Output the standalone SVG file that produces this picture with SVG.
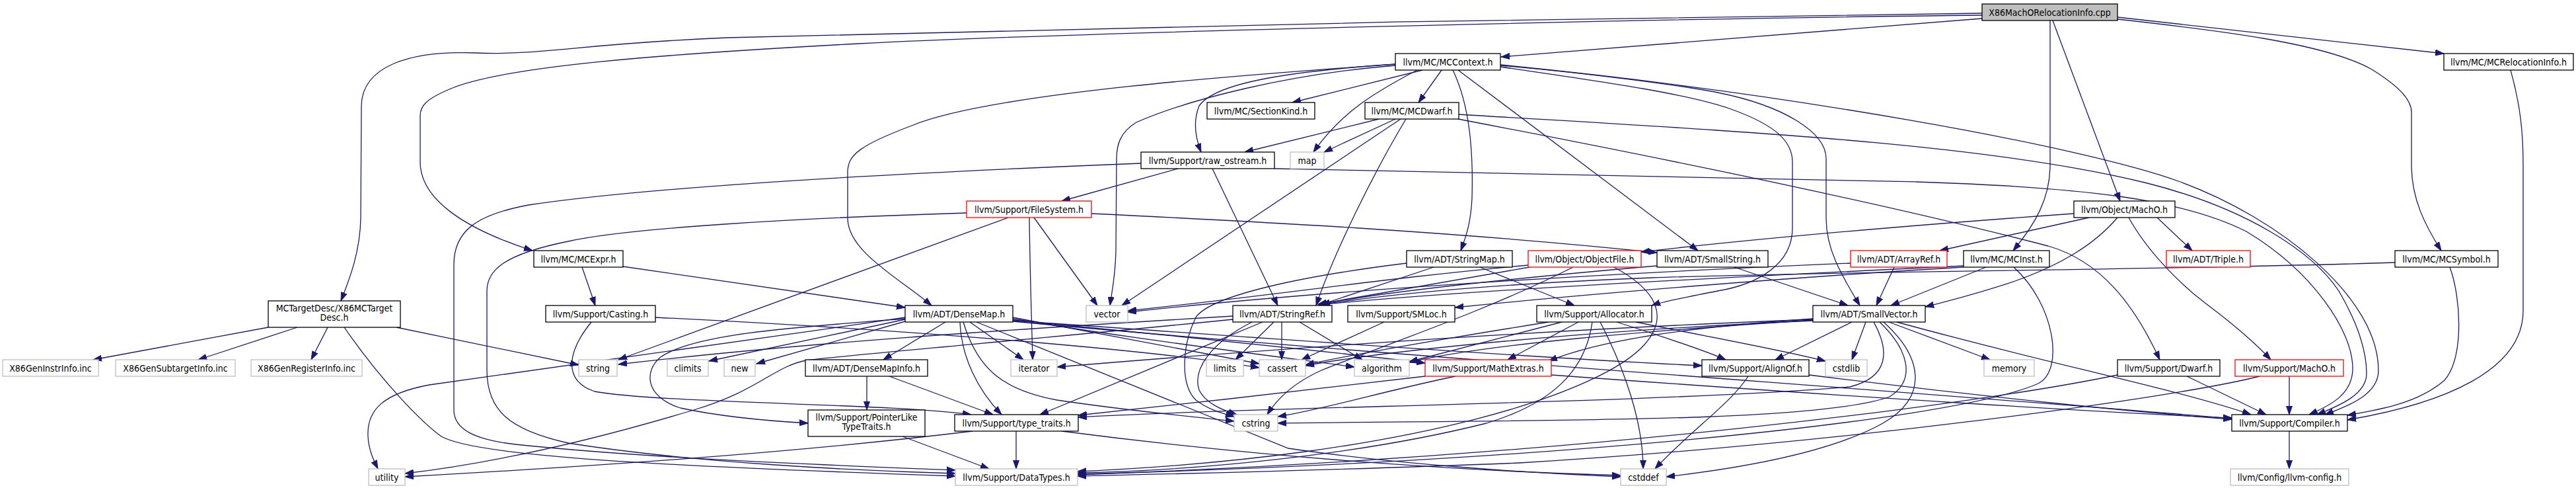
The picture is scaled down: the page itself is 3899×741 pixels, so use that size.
<svg xmlns="http://www.w3.org/2000/svg" width="3899" height="741" viewBox="0 0 3899 741">
<style>
rect{fill:#ffffff;stroke:#000000;stroke-width:1.3}
rect.main{fill:#bfbfbf}
rect.sys{stroke:#bfbfbf}
rect.red{stroke:#ff0000}
text{font-family:"DejaVu Sans Condensed","Liberation Sans",Arial,sans-serif;font-size:14px;text-anchor:middle;fill:#000000}
#edges path{fill:none;stroke:#191970;stroke-width:1.3;marker-end:url(#ah)}
</style>
<defs>
<marker id="ah" markerUnits="userSpaceOnUse" markerWidth="14" markerHeight="10" refX="13" refY="5" orient="auto">
<path d="M0,0.5 L13,5 L0,9.5 z" fill="#191970" stroke="#191970" stroke-width="1"/>
</marker>
</defs>
<rect x="0" y="0" width="3899" height="741" style="fill:#ffffff;stroke:none"/>
<g id="edges">
<path d="M3000,20 C2500,24 1500,44 1100,57 C880,66 820,84 720,80 C620,76 548,100 547,160 L546,330 C545,380 530,420 516,455"/>
<path d="M3000,28 L2272,86"/>
<path d="M3000,23 C2500,28 1600,50 1300,66 C1000,82 760,100 680,135 C645,150 636,160 636,175 L636,245 C636,300 700,345 806,379"/>
<path d="M3103,31 L3103,250 C3103,300 3080,340 3047,379"/>
<path d="M3205,29 C3350,45 3520,65 3590,105 C3630,130 3650,150 3650,170 L3650,250 C3650,300 3670,340 3695,379"/>
<path d="M3205,26 L3699,81"/>
<path d="M3107,31 L3209,304"/>
<path d="M406,495 L141,544"/>
<path d="M450,495 L300,544"/>
<path d="M496,495 L471,544"/>
<path d="M600,495 L876,552"/>
<path d="M521,495 C580,580 640,640 668,660 C720,690 1000,705 1446,720"/>
<path d="M2112,97 C1900,112 1500,140 1380,190 C1300,220 1283,235 1283,260 L1283,330 C1283,380 1360,420 1410,462"/>
<path d="M2207,106 L2570,379"/>
<path d="M2271,99 C2400,110 2550,130 2600,140 C2700,160 2764,200 2764,240 L2764,330 C2764,380 2790,420 2815,462"/>
<path d="M2199,106 C2225,160 2230,230 2228,300 C2226,340 2218,360 2211,379"/>
<path d="M2182,106 L2147,155"/>
<path d="M2153,106 L1956,155"/>
<path d="M2271,101 C2400,120 2550,140 2620,165 C2690,190 2713,215 2713,245 L2713,345 C2713,400 2660,430 2600,440 C2550,450 2520,455 2500,462"/>
<path d="M2271,98 C2700,140 3150,220 3300,275 C3450,330 3600,450 3600,560 C3600,595 3560,612 3519,627"/>
<path d="M2112,97 C1950,108 1840,125 1815,160 C1805,185 1810,210 1818,230"/>
<path d="M2145,106 C2080,140 2030,170 1988,230"/>
<path d="M2112,99 C1950,112 1800,150 1720,185 C1695,200 1690,220 1690,240 L1689,380 C1688,420 1683,440 1680,462"/>
<path d="M2087,180 L1884,230"/>
<path d="M2112,180 L2004,230"/>
<path d="M2120,180 L1698,462"/>
<path d="M2128,180 C2080,260 2020,380 1992,462"/>
<path d="M2208,173 C2600,197 3000,215 3250,277 C3400,315 3500,380 3540,440 C3575,500 3582,540 3582,565 C3582,595 3545,612 3507,627"/>
<path d="M2207,180 C2600,255 2900,320 3100,372 C3180,395 3230,460 3269,544"/>
<path d="M1727,247 C1400,260 1000,280 800,310 C720,325 687,350 687,400 L687,620 C687,650 720,665 780,672 C1000,695 1300,705 1446,711"/>
<path d="M1783,255 L1607,304"/>
<path d="M1835,255 L1934,462"/>
<path d="M1929,255 C2300,262 2600,267 2900,275 C3150,283 3300,300 3400,350 C3500,410 3561,500 3561,557 C3561,595 3530,612 3495,627"/>
<path d="M1463,322 C1200,330 950,345 860,365 C760,385 737,410 737,440 L737,560 C737,620 770,650 860,670 C1050,700 1300,712 1446,716"/>
<path d="M1526,329 L936,544"/>
<path d="M1558,329 C1559,420 1562,500 1563,544"/>
<path d="M1565,329 L1661,462"/>
<path d="M1652,323 C1900,335 2200,350 2508,382"/>
<path d="M943,403 L1370,465"/>
<path d="M881,404 L901,462"/>
<path d="M992,480 C1400,500 1750,530 1906,556"/>
<path d="M895,487 C860,530 850,575 900,592 C1000,610 1350,610 1470,627"/>
<path d="M1431,487 L1337,544"/>
<path d="M1453,487 C1455,540 1480,590 1516,627"/>
<path d="M1458,487 C1480,560 1520,590 1600,605 C1700,620 1800,630 1868,637"/>
<path d="M1468,487 L1549,544"/>
<path d="M1478,487 L1950,678 C2100,700 2300,715 2453,721"/>
<path d="M1533,480 L1906,550"/>
<path d="M1533,482 C1700,510 1900,535 2050,555"/>
<path d="M1533,484 C1800,510 2000,530 2157,549"/>
<path d="M1533,485 C1900,510 2300,540 2576,553"/>
<path d="M1533,486 C2000,530 3000,600 3378,633"/>
<path d="M1370,483 L1073,546"/>
<path d="M1370,486 L1145,550"/>
<path d="M1370,482 C1200,495 1050,505 1000,540 C975,560 975,600 1030,617 C1100,632 1170,637 1223,640"/>
<path d="M1370,480 C1100,520 800,560 650,582 C580,595 555,620 557,660 C558,680 565,695 572,709"/>
<path d="M1312,569 L1312,620"/>
<path d="M1346,569 L1503,627"/>
<path d="M1366,660 L1497,709"/>
<path d="M1538,652 L1538,709"/>
<path d="M1607,652 C1900,690 2200,712 2453,719"/>
<path d="M1472,652 C1200,685 900,705 613,721"/>
<path d="M1911,487 L1574,627"/>
<path d="M1967,487 L2062,544"/>
<path d="M1940,487 L1940,544"/>
<path d="M1895,487 C1830,520 1805,560 1815,590 C1825,610 1850,620 1872,627"/>
<path d="M1928,487 L1870,544"/>
<path d="M1866,478 C1500,500 1200,520 936,551"/>
<path d="M1866,483 C1600,510 1300,535 1220,545 C1170,555 1150,590 1050,620 C900,665 750,700 613,716"/>
<path d="M2170,404 L1995,462"/>
<path d="M2240,404 L2383,462"/>
<path d="M2129,398 C1950,420 1830,450 1810,480 C1790,520 1785,580 1810,605 C1830,620 1850,625 1868,630"/>
<path d="M2315,404 L1995,460"/>
<path d="M2443,404 C2510,440 2525,480 2490,520 C2430,590 2150,690 1631,713"/>
<path d="M2381,404 C2250,470 2100,520 2000,560 C1960,578 1935,600 1918,627"/>
<path d="M2313,401 C2100,420 1950,444 1707,470"/>
<path d="M2625,404 L2797,462"/>
<path d="M2508,402 C2300,420 2100,440 2000,460"/>
<path d="M2867,404 L2840,462"/>
<path d="M2801,398 C2400,415 2000,440 1707,472"/>
<path d="M3006,404 L2862,462"/>
<path d="M2972,402 C2600,420 2200,440 1998,461"/>
<path d="M2972,404 C2700,420 2400,445 2202,465"/>
<path d="M3048,404 C3110,460 3125,560 3085,580 C2950,640 2300,700 1631,717"/>
<path d="M3625,397 C3300,408 2800,410 2500,420 C2250,430 2100,445 1998,461"/>
<path d="M3708,404 C3725,450 3730,540 3700,575 C3660,610 3600,620 3553,628"/>
<path d="M3800,106 C3815,160 3819,200 3819,250 L3819,470 C3819,560 3700,610 3553,635"/>
<path d="M3139,323 C2900,340 2650,362 2484,381"/>
<path d="M3162,329 L2936,379"/>
<path d="M3205,329 C3170,370 3120,400 3050,425 C2990,445 2950,455 2914,464"/>
<path d="M3265,329 L3318,379"/>
<path d="M3222,329 C3250,380 3300,430 3340,460 C3380,490 3410,515 3437,544"/>
<path d="M2095,487 L1970,544"/>
<path d="M2447,487 C2520,510 2580,530 2612,544"/>
<path d="M2410,487 C2400,560 2350,610 2250,640 C2050,690 1800,712 1631,715"/>
<path d="M2389,487 L2282,544"/>
<path d="M2364,487 L2133,547"/>
<path d="M2344,487 C2200,510 2050,535 1976,552"/>
<path d="M2422,487 C2460,560 2487,640 2487,709"/>
<path d="M2476,487 C2600,512 2700,530 2763,546"/>
<path d="M2348,567 C2800,600 3200,625 3378,632"/>
<path d="M2157,569 C2000,588 1800,610 1632,628"/>
<path d="M2203,569 C2100,590 2000,620 1934,630"/>
<path d="M2738,567 C3000,600 3250,625 3378,634"/>
<path d="M2646,569 C2620,610 2560,650 2505,709"/>
<path d="M2803,487 L2687,544"/>
<path d="M2871,487 C3100,550 3300,590 3407,627"/>
<path d="M2744,482 C2550,495 2420,515 2344,546"/>
<path d="M2836,487 C2860,530 2860,570 2800,585 C2500,610 1900,615 1632,631"/>
<path d="M2744,484 C2500,500 2250,520 2133,548"/>
<path d="M2744,485 C2400,500 2100,530 1976,553"/>
<path d="M2851,487 C2910,540 2920,600 2850,640 C2760,690 2600,712 2522,721"/>
<path d="M2824,487 L2803,544"/>
<path d="M2845,487 C2890,530 2900,575 2860,600 C2750,640 2300,635 1934,640"/>
<path d="M2744,483 C2300,500 1900,530 1600,555"/>
<path d="M2859,487 L3012,544"/>
<path d="M3310,569 L3430,627"/>
<path d="M3205,567 C3000,610 2400,690 1631,718"/>
<path d="M3465,569 L3465,627"/>
<path d="M3420,569 C3300,600 2800,670 2300,700 C2000,712 1800,716 1631,720"/>
<path d="M3465,652 L3465,709"/>
</g>
<g id="n_cpp"><rect class="main" x="3000" y="6" width="205" height="25"/><text x="3102.5" y="23.5">X86MachORelocationInfo.cpp</text></g>
<g id="n_mccontext"><rect x="2112" y="81" width="159" height="25"/><text x="2191.5" y="98.5">llvm/MC/MCContext.h</text></g>
<g id="n_mcrelocationinfo"><rect x="3699" y="81" width="196" height="25"/><text x="3797" y="98.5">llvm/MC/MCRelocationInfo.h</text></g>
<g id="n_sectionkind"><rect x="1827" y="155" width="163" height="25"/><text x="1908.5" y="172.5">llvm/MC/SectionKind.h</text></g>
<g id="n_mcdwarf"><rect x="2066" y="155" width="142" height="25"/><text x="2137" y="172.5">llvm/MC/MCDwarf.h</text></g>
<g id="n_raw_ostream"><rect x="1727" y="230" width="202" height="25"/><text x="1828" y="247.5">llvm/Support/raw_ostream.h</text></g>
<g id="n_map"><rect class="sys" x="1953" y="230" width="51" height="25"/><text x="1978.5" y="247.5">map</text></g>
<g id="n_filesystem"><rect class="red" x="1463" y="304" width="189" height="25"/><text x="1557.5" y="321.5">llvm/Support/FileSystem.h</text></g>
<g id="n_object_macho"><rect x="3139" y="304" width="153" height="25"/><text x="3215.5" y="321.5">llvm/Object/MachO.h</text></g>
<g id="n_mcexpr"><rect x="808" y="379" width="135" height="25"/><text x="875.5" y="396.5">llvm/MC/MCExpr.h</text></g>
<g id="n_stringmap"><rect x="2129" y="379" width="160" height="25"/><text x="2209" y="396.5">llvm/ADT/StringMap.h</text></g>
<g id="n_objectfile"><rect class="red" x="2313" y="379" width="171" height="25"/><text x="2398.5" y="396.5">llvm/Object/ObjectFile.h</text></g>
<g id="n_smallstring"><rect x="2508" y="379" width="168" height="25"/><text x="2592" y="396.5">llvm/ADT/SmallString.h</text></g>
<g id="n_arrayref"><rect class="red" x="2801" y="379" width="146" height="25"/><text x="2874" y="396.5">llvm/ADT/ArrayRef.h</text></g>
<g id="n_mcinst"><rect x="2972" y="379" width="130" height="25"/><text x="3037" y="396.5">llvm/MC/MCInst.h</text></g>
<g id="n_triple"><rect class="red" x="3279" y="379" width="127" height="25"/><text x="3342.5" y="396.5">llvm/ADT/Triple.h</text></g>
<g id="n_mcsymbol"><rect x="3625" y="379" width="156" height="25"/><text x="3703" y="396.5">llvm/MC/MCSymbol.h</text></g>
<g id="n_x86mctargetdesc"><rect x="406" y="455" width="200" height="40"/><text x="506" y="471">MCTargetDesc/X86MCTarget</text><text x="506" y="485">Desc.h</text></g>
<g id="n_casting"><rect x="826" y="462" width="166" height="25"/><text x="909" y="479.5">llvm/Support/Casting.h</text></g>
<g id="n_densemap"><rect x="1370" y="462" width="163" height="25"/><text x="1451.5" y="479.5">llvm/ADT/DenseMap.h</text></g>
<g id="n_vector"><rect class="sys" x="1644" y="462" width="63" height="25"/><text x="1675.5" y="479.5">vector</text></g>
<g id="n_stringref"><rect x="1866" y="462" width="150" height="25"/><text x="1941" y="479.5">llvm/ADT/StringRef.h</text></g>
<g id="n_smloc"><rect x="2040" y="462" width="162" height="25"/><text x="2121" y="479.5">llvm/Support/SMLoc.h</text></g>
<g id="n_allocator"><rect x="2326" y="462" width="174" height="25"/><text x="2413" y="479.5">llvm/Support/Allocator.h</text></g>
<g id="n_smallvector"><rect x="2744" y="462" width="170" height="25"/><text x="2829" y="479.5">llvm/ADT/SmallVector.h</text></g>
<g id="n_geninstrinfo"><rect class="sys" x="4" y="544" width="145" height="25"/><text x="76.5" y="561.5">X86GenInstrInfo.inc</text></g>
<g id="n_gensubtargetinfo"><rect class="sys" x="175" y="544" width="181" height="25"/><text x="265.5" y="561.5">X86GenSubtargetInfo.inc</text></g>
<g id="n_genregisterinfo"><rect class="sys" x="380" y="544" width="168" height="25"/><text x="464" y="561.5">X86GenRegisterInfo.inc</text></g>
<g id="n_string"><rect class="sys" x="876" y="544" width="58" height="25"/><text x="905" y="561.5">string</text></g>
<g id="n_climits"><rect class="sys" x="1010" y="544" width="62" height="25"/><text x="1041" y="561.5">climits</text></g>
<g id="n_new"><rect class="sys" x="1096" y="544" width="47" height="25"/><text x="1119.5" y="561.5">new</text></g>
<g id="n_densemapinfo"><rect x="1219" y="544" width="185" height="25"/><text x="1311.5" y="561.5">llvm/ADT/DenseMapInfo.h</text></g>
<g id="n_iterator"><rect class="sys" x="1530" y="544" width="70" height="25"/><text x="1565" y="561.5">iterator</text></g>
<g id="n_limits"><rect class="sys" x="1826" y="544" width="56" height="25"/><text x="1854" y="561.5">limits</text></g>
<g id="n_cassert"><rect class="sys" x="1906" y="544" width="70" height="25"/><text x="1941" y="561.5">cassert</text></g>
<g id="n_algorithm"><rect class="sys" x="2050" y="544" width="83" height="25"/><text x="2091.5" y="561.5">algorithm</text></g>
<g id="n_mathextras"><rect class="red" x="2157" y="544" width="191" height="25"/><text x="2252.5" y="561.5">llvm/Support/MathExtras.h</text></g>
<g id="n_alignof"><rect x="2576" y="544" width="162" height="25"/><text x="2657" y="561.5">llvm/Support/AlignOf.h</text></g>
<g id="n_cstdlib"><rect class="sys" x="2763" y="544" width="63" height="25"/><text x="2794.5" y="561.5">cstdlib</text></g>
<g id="n_memory"><rect class="sys" x="3003" y="544" width="76" height="25"/><text x="3041" y="561.5">memory</text></g>
<g id="n_dwarf"><rect x="3205" y="544" width="155" height="25"/><text x="3282.5" y="561.5">llvm/Support/Dwarf.h</text></g>
<g id="n_support_macho"><rect class="red" x="3383" y="544" width="164" height="25"/><text x="3465" y="561.5">llvm/Support/MachO.h</text></g>
<g id="n_pointerliketypetraits"><rect x="1223" y="620" width="177" height="40"/><text x="1311.5" y="636">llvm/Support/PointerLike</text><text x="1311.5" y="650">TypeTraits.h</text></g>
<g id="n_type_traits"><rect x="1445" y="627" width="187" height="25"/><text x="1538.5" y="644.5">llvm/Support/type_traits.h</text></g>
<g id="n_cstring"><rect class="sys" x="1868" y="627" width="66" height="25"/><text x="1901" y="644.5">cstring</text></g>
<g id="n_compiler"><rect x="3378" y="627" width="175" height="25"/><text x="3465.5" y="644.5">llvm/Support/Compiler.h</text></g>
<g id="n_utility"><rect class="sys" x="558" y="709" width="55" height="25"/><text x="585.5" y="726.5">utility</text></g>
<g id="n_datatypes"><rect class="sys" x="1446" y="709" width="185" height="25"/><text x="1538.5" y="726.5">llvm/Support/DataTypes.h</text></g>
<g id="n_cstddef"><rect class="sys" x="2453" y="709" width="69" height="25"/><text x="2487.5" y="726.5">cstddef</text></g>
<g id="n_llvm_config"><rect class="sys" x="3376" y="709" width="179" height="25"/><text x="3465.5" y="726.5">llvm/Config/llvm-config.h</text></g>
</svg>
